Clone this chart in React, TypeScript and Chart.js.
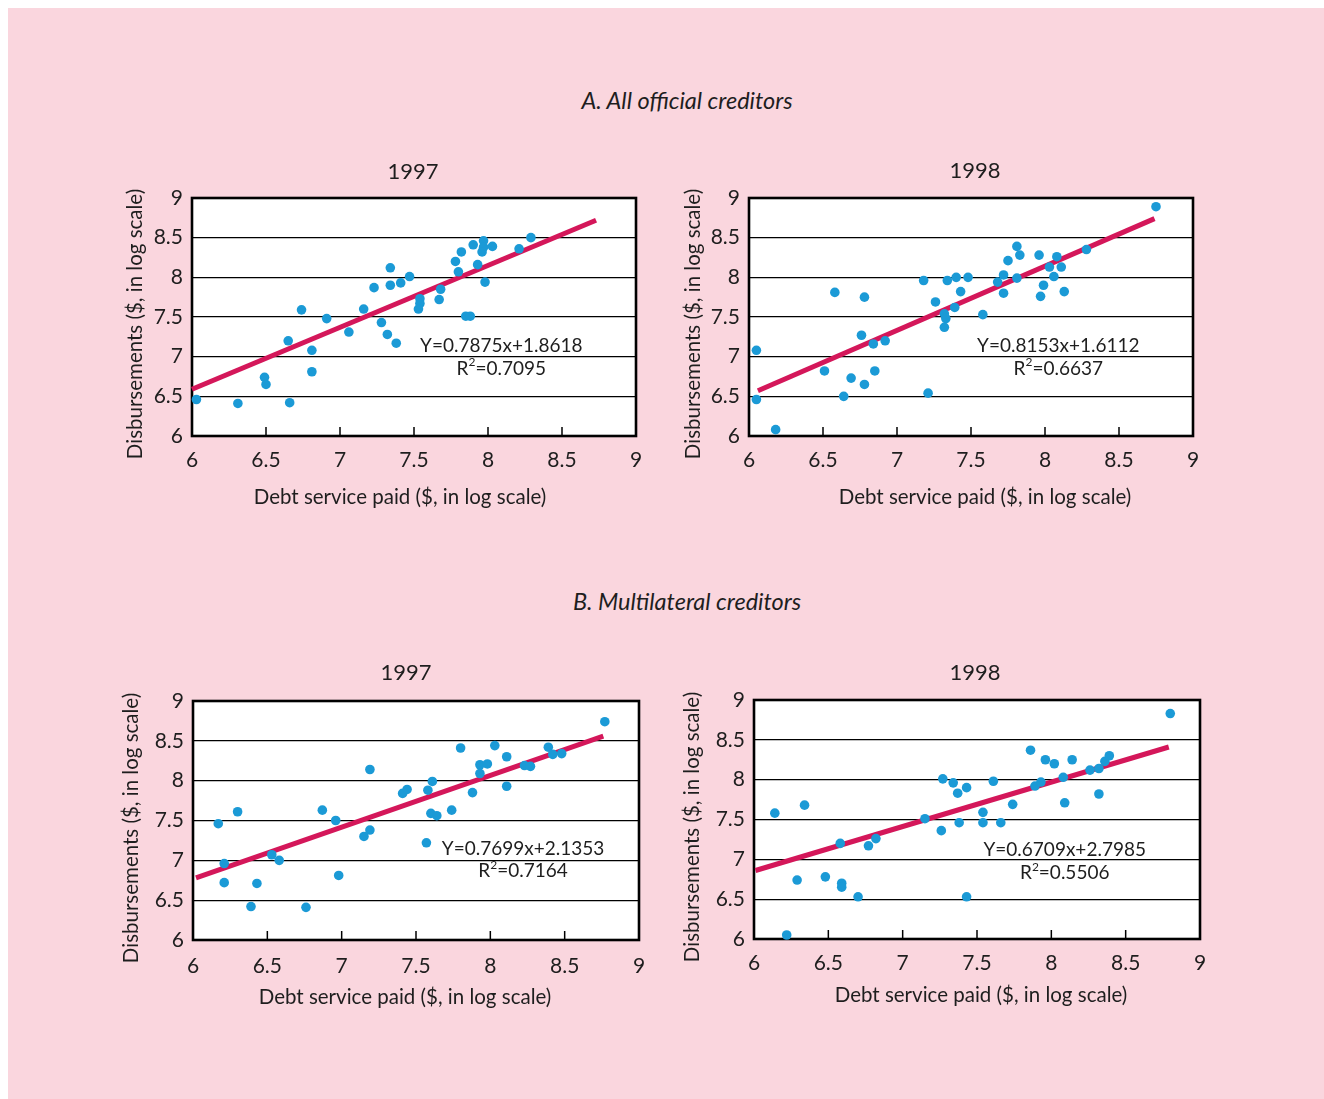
import React, { useEffect, useRef } from "react";
import { Chart, registerables } from "chart.js";

Chart.register(...registerables);

// ---------- data ----------
const tickValues = [6, 6.5, 7, 7.5, 8, 8.5, 9];
const xTickLabels = ["6", "6.5", "7", "7.5", "8", "8.5", "9"];
const yTickLabels = ["6", "6.5", "7", "7.5", "8", "8.5", "9"];
const innerTickValues = [6.5, 7, 7.5, 8, 8.5];

const sectionTitles = ["A. All official creditors", "B. Multilateral creditors"];
const panelYears = ["1997", "1998", "1997", "1998"];
const xAxisTitle = "Debt service paid ($, in log scale)";
const yAxisTitle = "Disbursements ($, in log scale)";

// A. All official creditors, 1997
const allX1997 = [6.03, 6.31, 6.49, 6.5, 6.66, 6.65, 6.74, 6.81, 6.81, 6.91, 7.06, 7.16, 7.23, 7.28, 7.32, 7.34, 7.34, 7.38, 7.41, 7.47, 7.54, 7.54, 7.53, 7.68, 7.67, 7.78, 7.8, 7.82, 7.85, 7.88, 7.9, 7.93, 7.97, 7.97, 7.96, 7.98, 8.03, 8.21, 8.29];
const allY1997 = [6.46, 6.41, 6.74, 6.65, 6.42, 7.2, 7.59, 7.08, 6.81, 7.48, 7.31, 7.6, 7.87, 7.43, 7.28, 8.12, 7.9, 7.17, 7.93, 8.01, 7.73, 7.67, 7.6, 7.85, 7.72, 8.2, 8.07, 8.32, 7.51, 7.51, 8.41, 8.16, 8.46, 8.38, 8.32, 7.94, 8.39, 8.36, 8.5];
const allFitX1997 = [6.0, 8.73];
const allFitY1997 = [6.59, 8.72];

// A. All official creditors, 1998
const allX1998 = [6.05, 6.05, 6.18, 6.51, 6.58, 6.64, 6.69, 6.76, 6.78, 6.78, 6.84, 6.85, 6.92, 7.18, 7.21, 7.26, 7.32, 7.33, 7.32, 7.39, 7.34, 7.4, 7.43, 7.48, 7.58, 7.68, 7.72, 7.72, 7.75, 7.81, 7.83, 7.81, 7.96, 7.97, 7.99, 8.03, 8.08, 8.11, 8.06, 8.13, 8.28, 8.75];
const allY1998 = [6.46, 7.08, 6.08, 6.82, 7.81, 6.5, 6.73, 7.27, 7.75, 6.65, 7.16, 6.82, 7.2, 7.96, 6.54, 7.69, 7.54, 7.48, 7.37, 7.62, 7.96, 8.0, 7.82, 8.0, 7.53, 7.94, 8.03, 7.8, 8.21, 8.39, 8.28, 7.99, 8.28, 7.76, 7.9, 8.13, 8.26, 8.13, 8.01, 7.82, 8.35, 8.89];
const allFitX1998 = [6.06, 8.74];
const allFitY1998 = [6.57, 8.74];

// B. Multilateral creditors, 1997
const mulX1997 = [6.17, 6.21, 6.21, 6.3, 6.39, 6.43, 6.53, 6.58, 6.76, 6.87, 6.96, 6.98, 7.15, 7.19, 7.19, 7.41, 7.44, 7.57, 7.58, 7.61, 7.6, 7.64, 7.74, 7.8, 7.88, 7.93, 7.93, 7.98, 8.03, 8.11, 8.11, 8.23, 8.27, 8.39, 8.42, 8.48, 8.77];
const mulY1997 = [7.46, 6.96, 6.72, 7.61, 6.42, 6.71, 7.07, 7.0, 6.41, 7.63, 7.5, 6.81, 7.3, 7.38, 8.14, 7.84, 7.89, 7.22, 7.88, 7.99, 7.59, 7.56, 7.63, 8.41, 7.85, 8.09, 8.2, 8.21, 8.44, 8.3, 7.93, 8.19, 8.18, 8.42, 8.33, 8.34, 8.74];
const mulFitX1997 = [6.02, 8.76];
const mulFitY1997 = [6.78, 8.56];

// B. Multilateral creditors, 1998
const mulX1998 = [6.14, 6.22, 6.29, 6.34, 6.48, 6.58, 6.59, 6.59, 6.7, 6.77, 6.82, 7.15, 7.26, 7.27, 7.34, 7.37, 7.38, 7.43, 7.43, 7.54, 7.54, 7.61, 7.66, 7.74, 7.86, 7.89, 7.93, 7.96, 8.02, 8.08, 8.09, 8.14, 8.26, 8.32, 8.32, 8.36, 8.39, 8.8];
const mulY1998 = [7.58, 6.05, 6.74, 7.68, 6.78, 7.2, 6.7, 6.65, 6.53, 7.17, 7.26, 7.51, 7.36, 8.01, 7.96, 7.83, 7.46, 6.53, 7.9, 7.59, 7.46, 7.98, 7.46, 7.69, 8.37, 7.92, 7.97, 8.25, 8.2, 8.03, 7.71, 8.25, 8.12, 8.14, 7.82, 8.23, 8.3, 8.83];
const mulFitX1998 = [6.01, 8.79];
const mulFitY1998 = [6.86, 8.41];

const equations = ["Y=0.7875x+1.8618", "Y=0.8153x+1.6112", "Y=0.7699x+2.1353", "Y=0.6709x+2.7985"];
const rSquared = ["0.7095", "0.6637", "0.7164", "0.5506"];
// annotation anchors in data units: [x centre, y of equation line, y of R² line]
const noteAnchors = [
  [8.09, 7.13, 6.85],
  [8.09, 7.13, 6.85],
  [8.22, 7.15, 6.87],
  [8.09, 7.12, 6.83],
];

// ---------- layout / style ----------
const FONT = "Lato, 'Open Sans', 'DejaVu Sans', sans-serif";
const PINK = "#fad6de";
const BLUE = "#1b9ad6";
const RED = "#d4175a";
const TEXT = "#1e1e1e";
const TICK_SIZE = 21;
const AXIS_TITLE_SIZE = 20.5;
const YEAR_SIZE = 22;
const NOTE_SIZE = 19;

type Layout = {
  canvas: number[]; // left, top, width, height (page px)
  area: number[]; // left, top, right, bottom (page px)
  yearPos: number[];
  yTitlePos: number[];
  xTitlePos: number[];
  xTickY: number;
};

const layouts: Layout[] = [
  { canvas: [100, 140, 560, 400], area: [192, 198, 636, 436], yearPos: [413, 172], yTitlePos: [135, 324], xTitlePos: [400, 497], xTickY: 460 },
  { canvas: [660, 140, 560, 400], area: [749, 198, 1193, 436], yearPos: [975, 171], yTitlePos: [693, 324], xTitlePos: [985, 497], xTickY: 460 },
  { canvas: [100, 640, 560, 410], area: [193, 701, 639, 940], yearPos: [406, 673], yTitlePos: [131, 828], xTitlePos: [405, 997], xTickY: 966 },
  { canvas: [660, 640, 560, 410], area: [754, 700, 1200, 939], yearPos: [975, 673], yTitlePos: [692, 827], xTitlePos: [981, 995], xTickY: 963 },
];

const seriesX = [allX1997, allX1998, mulX1997, mulX1998];
const seriesY = [allY1997, allY1998, mulY1997, mulY1998];
const fitX = [allFitX1997, allFitX1998, mulFitX1997, mulFitX1998];
const fitY = [allFitY1997, allFitY1998, mulFitY1997, mulFitY1998];

function Panel({ idx }: { idx: number }) {
  const ref = useRef<HTMLCanvasElement>(null);
  const lay = layouts[idx];
  const [cl, ct, cw, ch] = lay.canvas;

  useEffect(() => {
    if (!ref.current) return;
    const [al, at, ar, ab] = lay.area;
    const yW = al - cl;
    const xH = ct + ch - ab;
    const padTop = at - ct;
    const padRight = cl + cw - ar;
    const xTickPad = lay.xTickY - ab - (TICK_SIZE * 1.2) / 2;

    const decor = {
      id: "decor",
      beforeDraw(chart: any) {
        const { ctx, chartArea: a } = chart;
        ctx.save();
        ctx.fillStyle = "#ffffff";
        ctx.fillRect(a.left, a.top, a.right - a.left, a.bottom - a.top);
        ctx.restore();
      },
      beforeDatasetsDraw(chart: any) {
        const { ctx, chartArea: a, scales } = chart;
        ctx.save();
        ctx.strokeStyle = "#000";
        ctx.lineWidth = 1.5;
        innerTickValues.forEach((v) => {
          const x = scales.x.getPixelForValue(v);
          ctx.beginPath();
          ctx.moveTo(x, a.bottom);
          ctx.lineTo(x, a.bottom - 9);
          ctx.stroke();
        });
        ctx.lineWidth = 2.6;
        ctx.strokeRect(a.left, a.top, a.right - a.left, a.bottom - a.top);
        ctx.restore();
      },
      afterDraw(chart: any) {
        const { ctx, scales } = chart;
        ctx.save();
        ctx.fillStyle = TEXT;
        ctx.textAlign = "center";
        ctx.textBaseline = "middle";
        ctx.font = `${YEAR_SIZE}px ${FONT}`;
        ctx.fillText(panelYears[idx], lay.yearPos[0] - cl, lay.yearPos[1] - ct);
        ctx.font = `${AXIS_TITLE_SIZE}px ${FONT}`;
        ctx.fillText(xAxisTitle, lay.xTitlePos[0] - cl, lay.xTitlePos[1] - ct);
        ctx.save();
        ctx.translate(lay.yTitlePos[0] - cl, lay.yTitlePos[1] - ct);
        ctx.rotate(-Math.PI / 2);
        ctx.fillText(yAxisTitle, 0, 0);
        ctx.restore();

        const [nxv, ny1, ny2] = noteAnchors[idx];
        const nx = scales.x.getPixelForValue(nxv);
        const big = `${NOTE_SIZE}px ${FONT}`;
        const small = `${Math.round(NOTE_SIZE * 0.62)}px ${FONT}`;
        ctx.font = big;
        ctx.fillText(equations[idx], nx, scales.y.getPixelForValue(ny1));
        const y2 = scales.y.getPixelForValue(ny2);
        const rest = "=" + rSquared[idx];
        const wR = ctx.measureText("R").width;
        const wRest = ctx.measureText(rest).width;
        ctx.font = small;
        const wS = ctx.measureText("2").width;
        const x0 = nx - (wR + wS + wRest) / 2;
        ctx.textAlign = "left";
        ctx.font = big;
        ctx.fillText("R", x0, y2);
        ctx.font = small;
        ctx.fillText("2", x0 + wR, y2 - 6);
        ctx.font = big;
        ctx.fillText(rest, x0 + wR + wS, y2);
        ctx.restore();
      },
    };

    const xs = seriesX[idx];
    const ys = seriesY[idx];
    const chart = new Chart(ref.current, {
      type: "scatter",
      data: {
        datasets: [
          {
            data: xs.map((x, i) => ({ x, y: ys[i] })),
            backgroundColor: BLUE,
            borderColor: BLUE,
            pointRadius: 4.8,
            pointBorderWidth: 0,
            clip: false,
            order: 0,
          } as any,
          {
            data: fitX[idx].map((x, i) => ({ x, y: fitY[idx][i] })),
            showLine: true,
            borderColor: RED,
            borderWidth: 5,
            pointRadius: 0,
            fill: false,
            clip: false,
            order: 1,
          } as any,
        ],
      },
      options: {
        animation: false,
        responsive: false,
        devicePixelRatio: 1,
        events: [],
        layout: { padding: { left: 0, top: padTop, right: padRight, bottom: 0 } },
        plugins: {
          legend: { display: false },
          tooltip: { enabled: false },
          title: { display: false },
        },
        scales: {
          x: {
            type: "linear",
            min: 6,
            max: 9,
            afterBuildTicks: (s: any) => {
              s.ticks = tickValues.map((v) => ({ value: v }));
            },
            afterFit: (s: any) => {
              s.height = xH;
            },
            grid: { display: false, drawTicks: false },
            border: { display: false },
            ticks: {
              padding: xTickPad,
              color: TEXT,
              font: { family: FONT, size: TICK_SIZE },
              maxRotation: 0,
              autoSkip: false,
              callback: (_v: any, i: number) => xTickLabels[i],
            },
          },
          y: {
            type: "linear",
            min: 6,
            max: 9,
            afterBuildTicks: (s: any) => {
              s.ticks = tickValues.map((v) => ({ value: v }));
            },
            afterFit: (s: any) => {
              s.width = yW;
            },
            grid: { color: "#000", lineWidth: 1.3, drawTicks: false },
            border: { display: false },
            ticks: {
              padding: 9,
              color: TEXT,
              font: { family: FONT, size: TICK_SIZE },
              autoSkip: false,
              callback: (_v: any, i: number) => yTickLabels[i],
            },
          },
        },
      } as any,
      plugins: [decor],
    });
    return () => chart.destroy();
  }, [idx]);

  return (
    <canvas
      ref={ref}
      width={cw}
      height={ch}
      style={{ position: "absolute", left: cl - 8, top: ct - 8, width: cw, height: ch }}
    />
  );
}

export default function App() {
  const titleStyle: React.CSSProperties = {
    position: "absolute",
    left: 679,
    transform: "translateX(-50%)",
    fontFamily: FONT,
    fontStyle: "italic",
    fontSize: 23.5,
    lineHeight: "26px",
    color: TEXT,
    whiteSpace: "nowrap",
  };
  return (
    <div
      style={{
        position: "fixed",
        left: 8,
        top: 8,
        width: 1316,
        height: 1091,
        background: PINK,
        overflow: "hidden",
      }}
    >
      <div style={{ ...titleStyle, top: 79 }}>{sectionTitles[0]}</div>
      <div style={{ ...titleStyle, top: 580 }}>{sectionTitles[1]}</div>
      {[0, 1, 2, 3].map((i) => (
        <Panel key={i} idx={i} />
      ))}
    </div>
  );
}
